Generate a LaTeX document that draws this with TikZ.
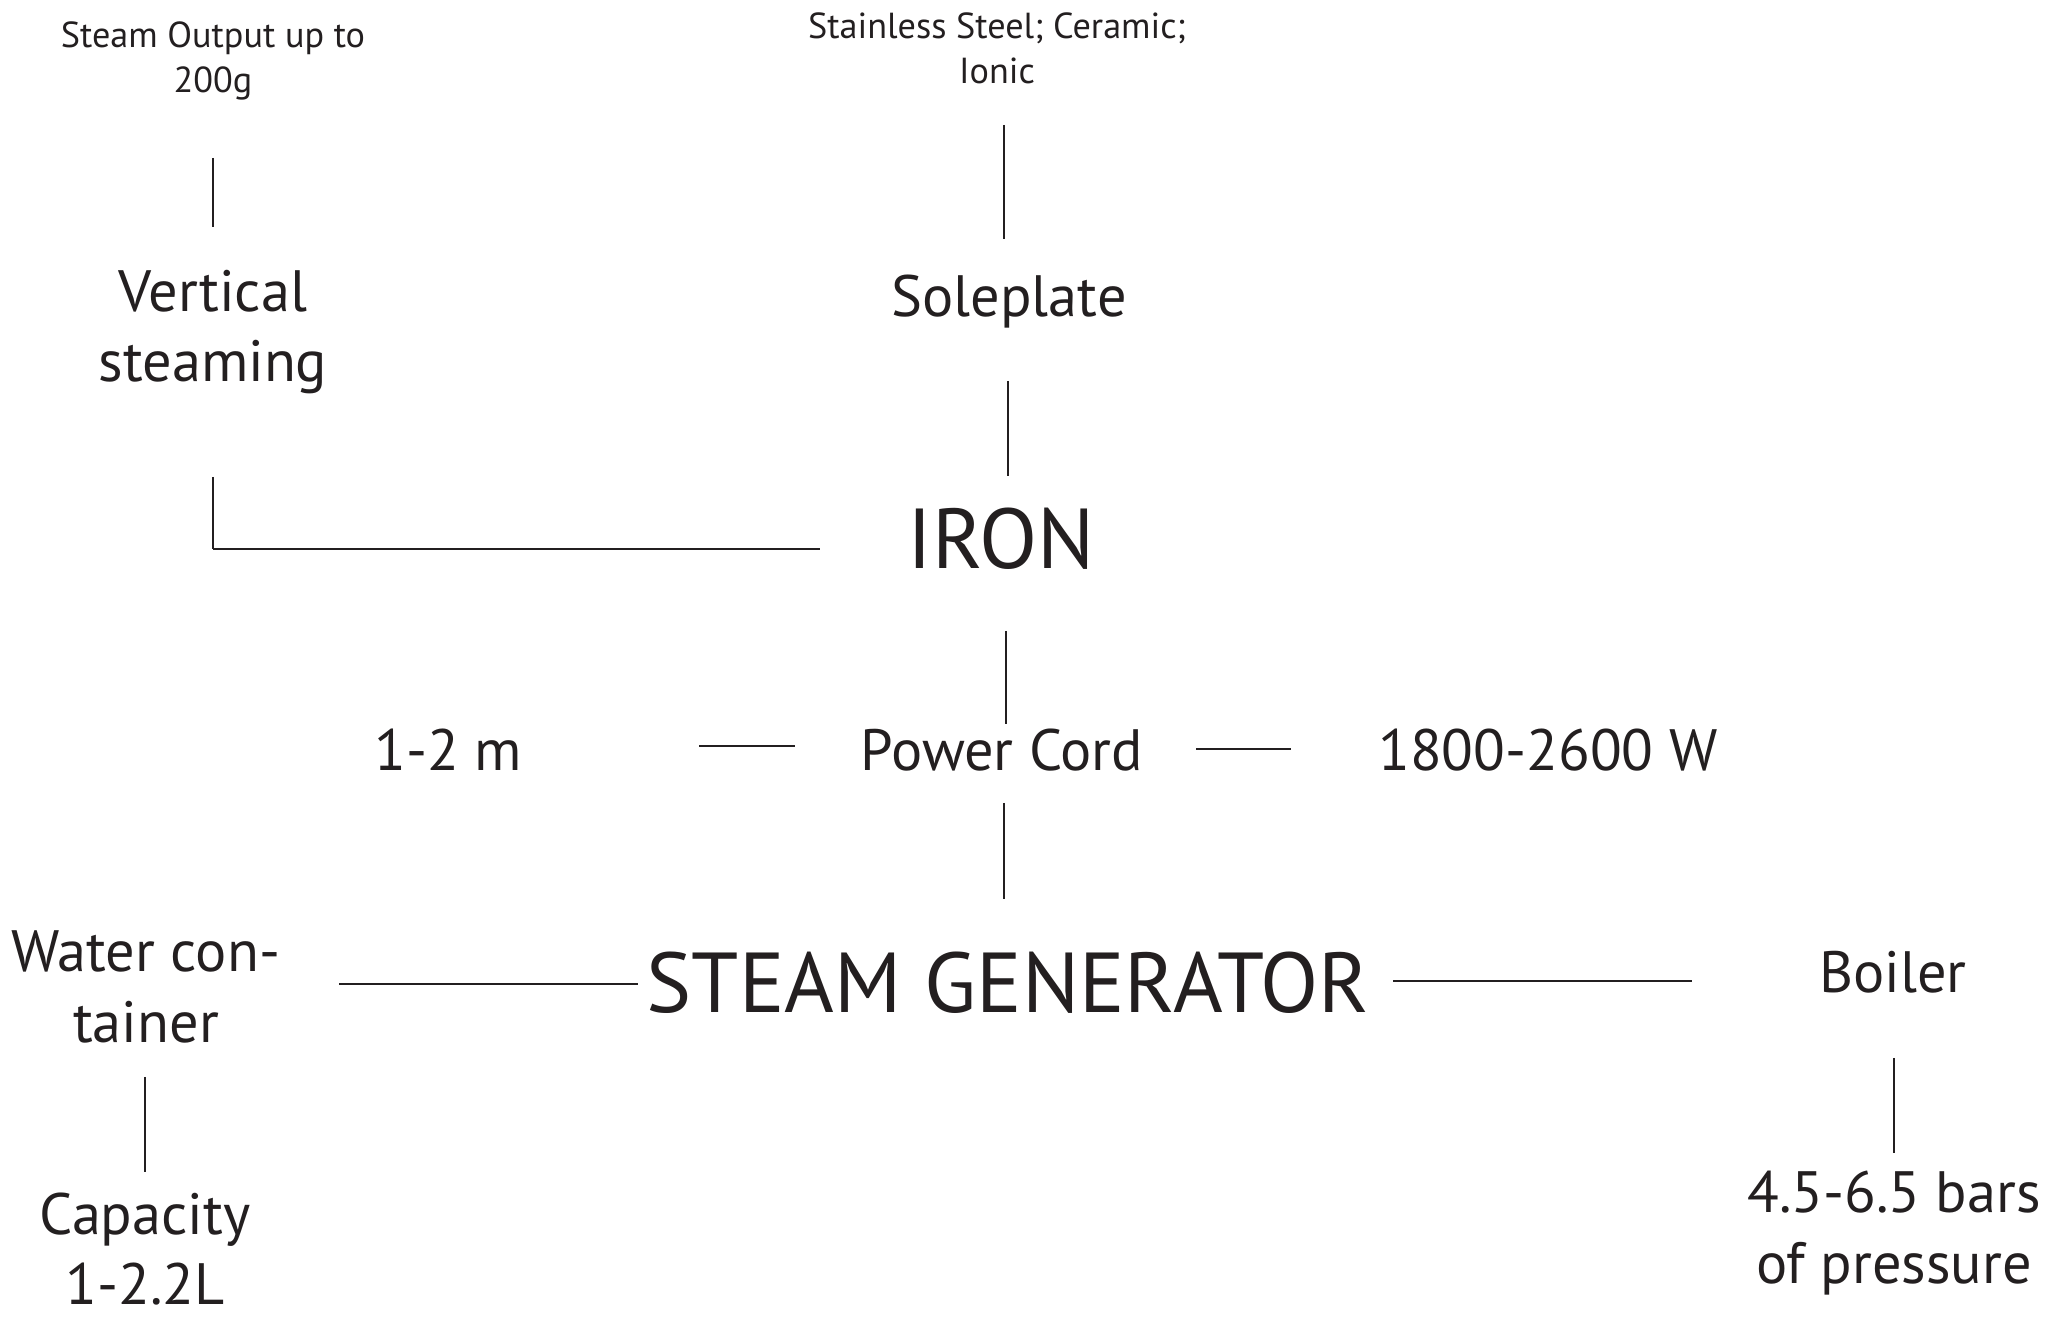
\documentclass[tikz,border=0pt]{standalone}
\usepackage{fontspec}
\setmainfont{PT Sans}
\usepackage{xcolor}
\usepackage{tikz}
\definecolor{ink}{RGB}{35,31,32}

\begin{document}
\begin{tikzpicture}[
    every node/.style={text=ink,inner sep=0pt,align=center},
    small/.style={font=\fontsize{10.3}{12.8}\selectfont},
    mid/.style={font=\fontsize{16.6}{20}\selectfont},
    big/.style={font=\fontsize{24.2}{30}\selectfont},
    link/.style={draw=ink,line width=0.35pt},
    hlink/.style={draw=ink,line width=0.6pt}
]
\useasboundingbox (0,0) rectangle (20.6,13.19);
\node[small] (output) at (2.13,12.58) {Steam Output up to\\200g};
\node[mid] (vertical) at (2.13,9.87) {Vertical\\steaming};
\node[small] (steel) at (9.97,12.71) {Stainless Steel; Ceramic;\\Ionic};
\node[mid] (sole) at (10.09,10.17) {Soleplate};
\node[big] (iron) at (10.01,7.80) {IRON};
\node[mid] (cord) at (10.02,5.69) {Power Cord};
\node[mid] (length) at (4.48,5.69) {1-2 m};
\node[mid] (watts) at (15.48,5.69) {1800-2600 W};
\node[big] (gen) at (10.08,3.36) {STEAM GENERATOR};
\node[mid] (water) at (1.46,3.32) {Water con-\\tainer};
\node[mid] (capacity) at (1.45,0.70) {Capacity\\1-2.2L};
\node[mid] (boiler) at (18.93,3.47) {Boiler};
\node[mid] (pressure) at (18.94,0.86) {4.5-6.5 bars\\of pressure};
\draw[link] (output |- 0,11.61) -- (output |- 0,10.92);
\draw[link] (vertical |- 0,8.42) -- (vertical |- 0,7.70);
\draw[hlink] (vertical |- 0,7.70) -- (8.20,7.70);
\draw[link] (10.04,11.94) -- (10.04,10.80);
\draw[link] (10.08,9.38) -- (10.08,8.43);
\draw[link] (10.06,6.88) -- (10.06,5.95);
\draw[hlink] (6.99,5.73) -- (7.95,5.73);
\draw[hlink] (11.96,5.70) -- (12.91,5.70);
\draw[link] (10.04,5.16) -- (10.04,4.20);
\draw[hlink] (3.39,3.35) -- (6.38,3.35);
\draw[hlink] (13.93,3.38) -- (16.92,3.38);
\draw[link] (capacity |- 0,2.42) -- (capacity |- 0,1.47);
\draw[link] (pressure |- 0,2.61) -- (pressure |- 0,1.66);
\end{tikzpicture}
\end{document}
